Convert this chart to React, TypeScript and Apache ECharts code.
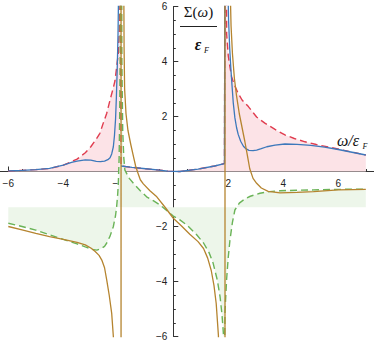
import React, { useEffect, useRef } from 'react';
import * as echarts from 'echarts';

// Red dashed: approximate spectral part (filled pink down to 0)
const redCurve: number[][] = [
  [-6.0, 0.02], [-5.5, 0.04], [-5.0, 0.07], [-4.5, 0.11], [-4.0, 0.23], [-3.5, 0.45], [-3.2, 0.68],
  [-3.0, 0.9], [-2.8, 1.18], [-2.67, 1.39], [-2.55, 1.75], [-2.42, 2.12], [-2.3, 2.6], [-2.18, 3.05],
  [-2.12, 3.3], [-2.06, 3.8], [-2.0, 4.3], [-1.96, 5.2], [-1.93, 6.5], [-1.92, 9], [-1.9, 9], [-1.9, 0.2],
  [-1.5, 0.15], [-1.0, 0.1], [-0.5, 0.05], [-0.2, 0.01], [0.24, 0], [0.9, 0.09], [1.5, 0.2], [1.86, 0.29],
  [1.88, 9], [1.93, 9], [1.94, 5.0], [2.0, 4.2], [2.06, 3.8], [2.12, 3.45], [2.2, 3.2], [2.36, 2.84],
  [2.5, 2.6], [2.73, 2.36], [3.03, 1.98], [3.33, 1.76], [3.7, 1.53], [4.06, 1.33], [4.4, 1.2],
  [4.79, 1.08], [5.2, 0.98], [5.7, 0.88], [6.3, 0.75], [7.0, 0.6],
];

// Blue solid: full spectral part, left branch up to the peak near -2
const blueLeft: number[][] = [
  [-6.0, 0.02], [-5.5, 0.04], [-5.0, 0.07], [-4.5, 0.11], [-4.0, 0.23], [-3.7, 0.33], [-3.5, 0.38],
  [-3.2, 0.42], [-3.0, 0.41], [-2.8, 0.37], [-2.65, 0.36], [-2.5, 0.38], [-2.38, 0.43], [-2.3, 0.5],
  [-2.24, 0.64], [-2.18, 0.9], [-2.14, 1.3], [-2.1, 1.9], [-2.07, 2.7], [-2.04, 3.7], [-2.01, 5.0],
  [-1.99, 6.5], [-1.98, 9],
];

// Blue solid: remainder after the peak
const blueRight: number[][] = [
  [-1.9, 0.2], [-1.5, 0.15], [-1.0, 0.1], [-0.5, 0.05], [-0.2, 0.01], [0.24, 0], [0.9, 0.09], [1.5, 0.2],
  [1.86, 0.29], [1.88, 9], [1.96, 9], [1.98, 7], [2.01, 5.5], [2.05, 4.5], [2.09, 3.8], [2.13, 3.2],
  [2.18, 2.5], [2.24, 1.95], [2.3, 1.6], [2.36, 1.35], [2.45, 1.1], [2.55, 0.92], [2.65, 0.82],
  [2.75, 0.77], [2.9, 0.76], [3.03, 0.78], [3.2, 0.83], [3.4, 0.9], [3.7, 0.96], [4.06, 1.0], [4.5, 0.99],
  [5.0, 0.95], [5.5, 0.89], [6.0, 0.8], [6.5, 0.7], [7.0, 0.6],
];

// Brown solid: real part
const brownCurve: number[][] = [
  [-6.0, -2.0], [-5.5, -2.12], [-5.0, -2.25], [-4.5, -2.37], [-4.0, -2.47], [-3.5, -2.58], [-3.2, -2.67],
  [-3.0, -2.78], [-2.85, -2.9], [-2.7, -3.05], [-2.6, -3.22], [-2.5, -3.5], [-2.42, -3.95], [-2.33, -4.5],
  [-2.24, -5.16], [-2.18, -6.0], [-2.15, -7], [-2.12, -9], [-1.9, -9], [-1.9, 9], [-1.81, 9], [-1.79, 4.5],
  [-1.77, 3.0], [-1.72, 2.1], [-1.65, 1.5], [-1.55, 1.0], [-1.45, 0.55], [-1.37, 0.2], [-1.3, -0.02],
  [-1.2, -0.3], [-1.09, -0.45], [-0.85, -0.7], [-0.6, -0.92], [-0.3, -1.3], [0, -1.7], [0.3, -1.98],
  [0.6, -2.28], [0.9, -2.55], [1.1, -2.8], [1.25, -3.15], [1.38, -3.6], [1.48, -4.15], [1.56, -4.8],
  [1.64, -5.95], [1.68, -7.5], [1.7, -9], [1.88, -9], [1.88, 9], [2.04, 9], [2.06, 7], [2.1, 5.3],
  [2.15, 4.3], [2.22, 3.4], [2.3, 2.75], [2.4, 2.1], [2.5, 1.6], [2.6, 1.1], [2.7, 0.55], [2.78, 0.1],
  [2.9, -0.25], [3.03, -0.43], [3.2, -0.6], [3.45, -0.72], [3.88, -0.78], [4.5, -0.76], [5.1, -0.73],
  [6.0, -0.67], [7.0, -0.65],
];

// Green dashed: approximate real part (filled against the constant level)
const greenCurve: number[][] = [
  [-6.0, -1.88], [-5.5, -2.0], [-5.0, -2.13], [-4.5, -2.3], [-4.0, -2.47], [-3.5, -2.63], [-3.2, -2.74],
  [-2.95, -2.83], [-2.78, -2.86], [-2.62, -2.8], [-2.5, -2.72], [-2.42, -2.6], [-2.3, -2.35], [-2.18, -2.0],
  [-2.1, -1.6], [-2.06, -1.28], [-2.02, -0.8], [-2.0, -0.45], [-1.97, 0.5], [-1.95, 2], [-1.93, 4.5],
  [-1.92, 9], [-1.88, 9], [-1.87, 4], [-1.84, 1.5], [-1.8, 0.5], [-1.76, 0.05], [-1.6, -0.25], [-1.45, -0.43],
  [-1.2, -0.7], [-0.97, -0.92], [-0.7, -1.08], [-0.48, -1.22], [-0.2, -1.45], [0, -1.62], [0.24, -1.76],
  [0.5, -1.95], [0.85, -2.3], [1.1, -2.6], [1.3, -2.95], [1.45, -3.34], [1.6, -3.95], [1.7, -4.55],
  [1.77, -5.2], [1.82, -5.87], [1.84, -9], [1.86, -9], [1.88, -5.1], [1.94, -3.9], [2.0, -3.1],
  [2.06, -2.5], [2.15, -1.85], [2.24, -1.4], [2.4, -1.15], [2.6, -1.0], [2.8, -0.9], [3.15, -0.79],
  [3.5, -0.73], [3.88, -0.7], [4.5, -0.68], [5.1, -0.67], [6.0, -0.65], [7.0, -0.64],
];

const greenLevel = -1.3;

const xRange = [-8, 8];
const yRange = [-6, 6];
const tickStep = 2;

const fmt = (v: number, lim: number) => {
  if (v === 0 || Math.abs(v) >= lim) return '';
  return v < 0 ? '\u2212' + Math.abs(v) : String(v);
};

const SERIF = '"Liberation Serif", "DejaVu Serif", serif';
const SANS = '"Liberation Sans", Arial, sans-serif';
const AXIS_COLOR = '#333';

// Layout: grid is wider than the page so that the x axis line runs across the full width
const GRID = { left: -46.7, top: 6.5, width: 440, height: 330 };

export default function App() {
  const ref = useRef<HTMLDivElement>(null);
  useEffect(() => {
    const chart = echarts.init(ref.current!, null, { renderer: 'svg' });
    const lineBase = { type: 'line', showSymbol: false, symbol: 'none', smooth: false, clip: true };
    // offsets move each axis to the other's zero
    const xOffset = -(GRID.height * (0 - yRange[0])) / (yRange[1] - yRange[0]);
    const yOffset = -(GRID.width * (0 - xRange[0])) / (xRange[1] - xRange[0]);
    chart.setOption({
      animation: false,
      grid: { ...GRID, containLabel: false, outerBoundsMode: 'none' },
      xAxis: {
        type: 'value', min: xRange[0], max: xRange[1], interval: tickStep,
        position: 'bottom', offset: xOffset,
        axisLine: { onZero: false, lineStyle: { color: AXIS_COLOR, width: 1 } },
        axisTick: { show: true, inside: true, length: 5, lineStyle: { color: AXIS_COLOR } },
        minorTick: { show: true, splitNumber: 4, length: 2.5, lineStyle: { color: AXIS_COLOR } },
        splitLine: { show: false }, minorSplitLine: { show: false },
        axisLabel: { formatter: (v: number) => fmt(v, 8), color: '#222', fontSize: 10, fontFamily: SANS, margin: 7 },
      },
      yAxis: {
        type: 'value', min: yRange[0], max: yRange[1], interval: tickStep,
        position: 'left', offset: yOffset,
        axisLine: { onZero: false, lineStyle: { color: AXIS_COLOR, width: 1 } },
        axisTick: { show: true, inside: true, length: 5, lineStyle: { color: AXIS_COLOR } },
        minorTick: { show: true, splitNumber: 4, length: 2.5, lineStyle: { color: AXIS_COLOR } },
        splitLine: { show: false }, minorSplitLine: { show: false },
        axisLabel: { formatter: (v: number) => fmt(v, 99), color: '#222', fontSize: 10, fontFamily: SANS, margin: 6 },
      },
      graphic: [
        {
          type: 'text', x: 198.5, y: 11.5,
          style: {
            text: '{n|\u03A3(}{i|\u03C9}{n|)}',
            rich: {
              n: { fontSize: 15, fontFamily: SERIF, fill: '#111', color: '#111' },
              i: { fontSize: 15, fontFamily: SERIF, fontStyle: 'italic', fill: '#111', color: '#111' },
            },
            textAlign: 'center', textVerticalAlign: 'middle', align: 'center', verticalAlign: 'middle',
          },
        },
        { type: 'line', shape: { x1: 180, y1: 26.5, x2: 217, y2: 26.5 }, style: { stroke: '#222', lineWidth: 1 } },
        {
          type: 'text', x: 198, y: 44,
          style: { text: '\u03B5', font: `italic bold 16px ${SERIF}`, fill: '#111', textAlign: 'center', textVerticalAlign: 'middle', align: 'center', verticalAlign: 'middle' },
        },
        {
          type: 'text', x: 206.5, y: 50,
          style: { text: 'F', font: `italic 8px ${SERIF}`, fill: '#111', textAlign: 'center', textVerticalAlign: 'middle', align: 'center', verticalAlign: 'middle' },
        },
        {
          type: 'text', x: 337, y: 140,
          style: { text: '\u03C9/\u03B5', font: `italic 16px ${SERIF}`, fill: '#111', textAlign: 'left', textVerticalAlign: 'middle', align: 'left', verticalAlign: 'middle' },
        },
        {
          type: 'text', x: 365, y: 146,
          style: { text: 'F', font: `italic 8px ${SERIF}`, fill: '#111', textAlign: 'center', textVerticalAlign: 'middle', align: 'center', verticalAlign: 'middle' },
        },
      ],
      series: [
        {
          ...lineBase, name: 'pinkArea', data: redCurve, z: 1,
          lineStyle: { width: 0, opacity: 0 },
          areaStyle: { color: '#fce3e7', opacity: 1, origin: 0 },
        },
        {
          ...lineBase, name: 'greenArea', data: greenCurve, z: 1,
          lineStyle: { width: 0, opacity: 0 },
          areaStyle: { color: '#edf6ea', opacity: 1, origin: greenLevel },
        },
        { ...lineBase, name: 'red', data: redCurve, z: 3, lineStyle: { color: '#e03c4f', width: 1.4, type: [7, 4] } },
        { ...lineBase, name: 'blueL', data: blueLeft, z: 4, lineStyle: { color: '#3c78bb', width: 1.3 } },
        { ...lineBase, name: 'blueR', data: blueRight, z: 4, lineStyle: { color: '#3c78bb', width: 1.3 } },
        { ...lineBase, name: 'green', data: greenCurve, z: 3, lineStyle: { color: '#6ab357', width: 1.4, type: [7, 4] } },
        { ...lineBase, name: 'brown', data: brownCurve, z: 5, lineStyle: { color: '#b5842f', width: 1.3 } },
      ],
    });
    return () => chart.dispose();
  }, []);
  return <div ref={ref} style={{ position: 'absolute', left: 0, top: 0, width: 374, height: 343 }} />;
}
